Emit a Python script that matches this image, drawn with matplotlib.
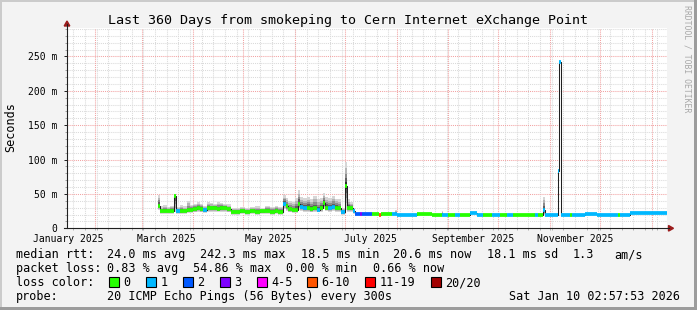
import pandas as pd
import matplotlib
matplotlib.use('Agg')
import matplotlib.pyplot as plt
from matplotlib.lines import Line2D
from matplotlib.patches import Rectangle, Polygon

W, H = 697, 310
MONO = 'DejaVu Sans Mono'

TITLE = "Last 360 Days from smokeping to Cern Internet eXchange Point"
T0 = pd.Timestamp('2025-01-15 02:57:53')
T1 = pd.Timestamp('2026-01-10 02:57:53')

LOSS_LABELS = ['0', '1', '2', '3', '4-5', '6-10', '11-19', '20/20']
LOSS_COLORS = ['#26ff00', '#00b8ff', '#0059ff', '#7e00ff',
               '#ff00ff', '#ff5500', '#ff0000', '#a10000']

# median rtt (ms) per stretch; each entry holds until the next start
seg_start = [
    '2025-03-10 14:00', '2025-03-11 20:00', '2025-03-14', '2025-03-16', '2025-03-18',
    '2025-03-20 12:00', '2025-03-21 12:00', '2025-03-24', '2025-03-26', '2025-03-28',
    '2025-03-30', '2025-04-01', '2025-04-03', '2025-04-05', '2025-04-07',
    '2025-04-09', '2025-04-11', '2025-04-13', '2025-04-15', '2025-04-17',
    '2025-04-19', '2025-04-21', '2025-04-23 12:00', '2025-04-26', '2025-04-29',
    '2025-05-02', '2025-05-05', '2025-05-08', '2025-05-11', '2025-05-14',
    '2025-05-17', '2025-05-20', '2025-05-22', '2025-05-24 12:00', '2025-05-26 12:00',
    '2025-05-28', '2025-05-30', '2025-06-01', '2025-06-02 12:00', '2025-06-04',
    '2025-06-06', '2025-06-08', '2025-06-10', '2025-06-12', '2025-06-14',
    '2025-06-16', '2025-06-17 12:00', '2025-06-19', '2025-06-21', '2025-06-23',
    '2025-06-25', '2025-06-27', '2025-06-28 12:00', '2025-06-30 18:00', '2025-07-02',
    '2025-07-04', '2025-07-06',
    '2025-07-07', '2025-07-10', '2025-07-11', '2025-07-17', '2025-07-21 12:00',
    '2025-07-22 06:00', '2025-07-24', '2025-07-29', '2025-07-31', '2025-08-01',
    '2025-08-13', '2025-08-22', '2025-08-28', '2025-08-29', '2025-09-01',
    '2025-09-05', '2025-09-08', '2025-09-14', '2025-09-18', '2025-09-22',
    '2025-09-27', '2025-10-02', '2025-10-06', '2025-10-10', '2025-10-23',
    '2025-10-25', '2025-10-28', '2025-10-29', '2025-11-05 14:00', '2025-11-06 14:00',
    '2025-11-07 10:00', '2025-11-13', '2025-11-14', '2025-11-22', '2025-11-29',
    '2025-12-12', '2025-12-13', '2025-12-19',
]
seg_end = '2026-01-10 00:00'

seg_median = [
    33.0, 25.0, 25.5, 25.0, 25.0,
    47.0, 24.5, 24.5, 25.0, 26.0,
    27.0, 28.0, 29.5, 28.0, 26.0,
    30.0, 29.0, 30.0, 28.5, 29.5,
    30.0, 28.0, 24.0, 24.0, 24.5,
    24.0, 25.0, 24.0, 24.5, 25.5,
    24.0, 25.0, 24.0, 36.0, 32.0,
    28.0, 26.0, 27.0, 36.0, 31.0,
    29.0, 30.0, 28.0, 29.0, 27.0,
    30.0, 37.0, 30.0, 29.0, 31.0,
    30.0, 29.0, 23.0, 62.0, 30.0,
    29.0, 25.0,
    20.3, 20.3, 20.3, 20.5, 20.0,
    20.5, 21.5, 20.5, 20.5, 19.6,
    20.3, 18.8, 20.0, 20.0, 20.0,
    20.0, 20.0, 22.7, 20.0, 20.0,
    20.0, 20.0, 19.8, 19.5, 19.5,
    19.3, 26.5, 19.3, 83.0, 242.3,
    19.5, 19.3, 19.3, 20.8, 19.5,
    19.5, 20.0, 22.7,
]

# loss class index (LOSS_LABELS) of each stretch
seg_loss = [
    0, 0, 0, 0, 0,
    0, 1, 0, 0, 0,
    0, 0, 0, 0, 1,
    0, 0, 0, 0, 0,
    0, 0, 0, 0, 0,
    0, 0, 0, 0, 0,
    0, 0, 0, 1, 0,
    0, 0, 0, 0, 1,
    1, 0, 0, 0, 1,
    0, 0, 0, 1, 1,
    0, 0, 1, 0, 0,
    0, 1,
    2, 3, 2, 0, 5,
    0, 0, 1, 1, 1,
    0, 0, 1, 1, 0,
    1, 0, 1, 1, 0,
    1, 0, 1, 0, 1,
    0, 1, 1, 1, 1,
    1, 0, 1, 1, 1,
    0, 1, 1,
]

# smoke extent (lowest / highest ping, ms)
seg_lo = [
    27, 21, 21, 21, 21,
    23, 21, 21, 21, 22,
    22, 23, 24, 23, 22,
    24, 24, 24, 23, 24,
    24, 23, 20, 20, 21,
    20, 21, 20, 21, 21,
    20, 21, 20, 28, 25,
    23, 22, 22, 27, 25,
    24, 24, 23, 24, 23,
    24, 28, 25, 24, 25,
    24, 24, 20, 26, 24,
    23, 21,
    19, 19, 19, 19.5, 19,
    19.5, 20, 19.5, 19.5, 18.5,
    19, 18, 19, 19, 19,
    19, 19, 21, 19, 19,
    19, 19, 19, 18.5, 18.5,
    18.5, 19, 18.5, 20, 242.3,
    18.5, 18.5, 18.5, 19.5, 18.5,
    18.5, 19, 21.5,
]
seg_hi = [
    49, 32, 34, 31, 33,
    50, 31, 34, 32, 40,
    34, 36, 38, 36, 33,
    38, 37, 36, 38, 37,
    36, 35, 30, 29, 31,
    30, 31, 32, 30, 33,
    31, 33, 31, 48, 44,
    40, 38, 44, 56, 46,
    44, 46, 42, 47, 42,
    44, 51, 46, 44, 47,
    43, 42, 30, 97, 42,
    38, 30,
    22, 22, 22, 22, 22,
    22, 23, 22, 26, 21,
    22, 20.5, 25.5, 21.5, 21.5,
    21.5, 21.5, 24, 21.5, 21.5,
    21.5, 21.5, 21.5, 21, 21,
    21, 46, 21, 83, 242.3,
    21, 21, 21, 22, 21,
    21, 21.5, 23.5,
]

YTICKS = [0, 50, 100, 150, 200, 250]
YTICK_LABELS = ['0', '50 m', '100 m', '150 m', '200 m', '250 m']
XLABEL_DATES = ['2025-01-16', '2025-03-16', '2025-05-16',
                '2025-07-16', '2025-09-16', '2025-11-16']
XLABELS = ['January 2025', 'March 2025', 'May 2025',
           'July 2025', 'September 2025', 'November 2025']

GRID = '#dadada'
MGRID = '#f2a3a3'
AXIS = '#202020'
ARROW = '#9b1c1c'


def fx(x):
    return x / W


def fy(y):
    return 1 - y / H


fig = plt.figure(figsize=(W / 100, H / 100), dpi=100)
fig.patch.set_facecolor('#f3f3f3')

left, right, top, bottom = 67, 667, 28, 228.3
ax = fig.add_axes([fx(left), fy(bottom), (right - left) / W, (bottom - top) / H])
ax.set_facecolor('white')
ax.set_xlim(T0, T1)
ax.set_ylim(0, 200 / 0.6864)
for s in ax.spines.values():
    s.set_visible(False)

# grid: weekly (Sunday) / monthly verticals, 10 m / 50 m horizontals
dots = (0, (1, 1))
weeks = pd.date_range('2025-01-19', T1, freq='7D')
minor_y = [v for v in range(10, 300, 10) if v % 50]
for d in weeks:
    ax.axvline(d, color=GRID, lw=0.75, ls=dots, zorder=0)
for v in minor_y:
    ax.axhline(v, color=GRID, lw=0.75, ls=dots, zorder=0)
months = pd.date_range('2025-02-01', '2026-01-01', freq='MS')
for d in months:
    ax.axvline(d, color=MGRID, lw=0.75, ls=dots, zorder=0.5)
for v in YTICKS[1:]:
    ax.axhline(v, color=MGRID, lw=0.75, ls=dots, zorder=0.5)

# smoke, median line, loss-coloured median bars
starts = pd.to_datetime(seg_start, format='ISO8601')
end = pd.Timestamp(seg_end)
ends = list(starts[1:]) + [end]
xs = list(starts) + [end]
med = pd.Series(seg_median, dtype=float)
lo = pd.Series(seg_lo, dtype=float)
hi = pd.Series(seg_hi, dtype=float)

shades = [(1.0, '#d6d6d6'), (0.72, '#b4b4b4'), (0.5, '#8c8c8c'),
          (0.3, '#5e5e5e'), (0.14, '#2e2e2e')]
for frac, col in shades:
    b_lo = med - frac * (med - lo)
    b_hi = med + frac * (hi - med)
    ax.fill_between(xs, list(b_lo) + [b_lo.iloc[-1]], list(b_hi) + [b_hi.iloc[-1]],
                    step='post', color=col, lw=0, zorder=2)

ax.step(xs, list(med) + [med.iloc[-1]], where='post', color='#202020', lw=0.75, zorder=3)
ax.hlines(med, starts, ends, colors=[LOSS_COLORS[i] for i in seg_loss],
          lw=2.7, capstyle='butt', zorder=4)

# ticks and labels
ax.set_yticks(YTICKS)
ax.set_yticklabels(YTICK_LABELS, family=MONO, fontsize=7)
ax.set_yticks(minor_y, minor=True)
ax.tick_params(axis='y', which='major', length=2.5, width=0.7, color=AXIS, pad=4.5)
ax.tick_params(axis='y', which='minor', length=1.5, width=0.7, color='#a0a0a0')
ax.set_xticks(pd.to_datetime(XLABEL_DATES))
ax.set_xticklabels(XLABELS, family=MONO, fontsize=7)
ax.set_xticks(list(weeks) + list(months), minor=True)
ax.tick_params(axis='x', which='major', length=0, pad=4.2)
ax.tick_params(axis='x', which='minor', length=1.5, width=0.7, color='#b0b0b0')
for t, d in zip(ax.xaxis.get_minor_ticks(), list(weeks) + list(months)):
    if d.day == 1:
        t.tick1line.set_color(MGRID)

# axis lines with arrow heads
fig.add_artist(Line2D([fx(67), fx(67)], [fy(bottom), fy(24)], color=AXIS, lw=0.8))
fig.add_artist(Line2D([fx(64), fx(669)], [fy(bottom), fy(bottom)], color=AXIS, lw=0.8))
fig.add_artist(Polygon([(fx(67), fy(21)), (fx(64.2), fy(26)), (fx(69.8), fy(26))],
                       closed=True, transform=fig.transFigure, color=ARROW))
fig.add_artist(Polygon([(fx(673.5), fy(bottom)), (fx(668.5), fy(bottom - 2.8)),
                        (fx(668.5), fy(bottom + 2.8))],
                       closed=True, transform=fig.transFigure, color=ARROW))

fig.text(fx(348.5), fy(24), TITLE, ha='center', va='baseline', family=MONO, fontsize=9.6)
fig.text(fx(10.5), fy(127.5), 'Seconds', rotation=90, ha='center', va='center',
         family=MONO, fontsize=8.5)
fig.text(fx(687), fy(5), 'RRDTOOL / TOBI OETIKER', rotation=-90, ha='center', va='top',
         family=MONO, fontsize=5.9, color='#a8a8a8')

# legend block
def leg(x, y, s, ha='left'):
    fig.text(fx(x), fy(y), s, ha=ha, va='baseline', family=MONO, fontsize=8.5)


for s, x in [('median rtt:', 16), ('24.0 ms avg', 107.3), ('242.3 ms max', 200),
             ('18.5 ms min', 300.7), ('20.6 ms now', 393.3), ('18.1 ms sd', 486.7),
             ('1.3', 572.7), ('am/s', 614.3)]:
    leg(x, 258.3, s)
for s, x in [('packet loss:', 16), ('0.83 % avg', 107.3), ('54.86 % max', 192.7),
             ('0.00 % min', 286), ('0.66 % now', 372.7)]:
    leg(x, 272.3, s)
leg(16, 286.3, 'loss color:')
for bx, lab, col in zip([108.7, 145.7, 182.7, 219.7, 256.7, 306.7, 365.3, 430.7],
                        LOSS_LABELS, LOSS_COLORS):
    fig.add_artist(Rectangle((fx(bx), fy(287)), 10 / W, 10 / H, transform=fig.transFigure,
                             facecolor=col, edgecolor='black', lw=0.8))
    leg(bx + 14.6, 286.3, lab)
leg(16, 300.3, 'probe:')
leg(107.3, 300.3, '20 ICMP Echo Pings (56 Bytes) every 300s')
leg(680, 300.3, 'Sat Jan 10 02:57:53 2026', ha='right')

# 3d-ish border
fig.add_artist(Rectangle((0, fy(2)), 1, 2 / H, transform=fig.transFigure, color='#cbcbcb', lw=0))
fig.add_artist(Rectangle((0, 0), 2 / W, 1, transform=fig.transFigure, color='#cbcbcb', lw=0))
fig.add_artist(Rectangle((0, 0), 1, 3 / H, transform=fig.transFigure, color='#9c9c9c', lw=0))
fig.add_artist(Rectangle((fx(694), 0), 3 / W, 1, transform=fig.transFigure, color='#9c9c9c', lw=0))

fig.savefig('out.png', dpi=100, facecolor=fig.get_facecolor())
